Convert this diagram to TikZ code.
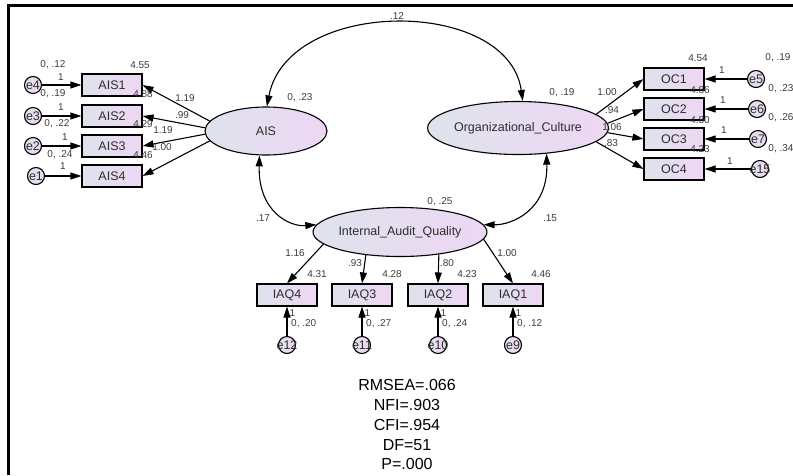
\documentclass[tikz,border=0pt]{standalone}
\usepackage{fontspec}
\setmainfont{Liberation Sans}
\usetikzlibrary{arrows.meta,shapes.geometric}
\definecolor{gl}{RGB}{222,227,237}
\definecolor{gr}{RGB}{238,214,243}
\definecolor{txt}{RGB}{45,45,45}
\definecolor{num}{RGB}{60,60,60}
\begin{document}
\begin{tikzpicture}[x=1pt,y=-1pt,
  nodefont/.style={font=\fontsize{12.5}{14}\selectfont},
  obs/.style={draw, line width=1.1pt, left color=gl, right color=gr, minimum width=60pt, minimum height=22pt, inner sep=0pt, nodefont, text=txt},
  lat/.style={ellipse, draw, line width=1.1pt, left color=gl, right color=gr, inner sep=0pt, nodefont, text=txt},
  err/.style={circle, draw, line width=1.1pt, left color=gl, right color=gr, minimum size=17pt, inner sep=0pt},
  lab/.style={font=\fontsize{10}{12}\selectfont, text=num, inner sep=0pt},
  fit/.style={font=\fontsize{16}{18}\selectfont, text=black, inner sep=0pt},
  arr/.style={-{Triangle[length=11pt,width=7pt]}, line width=1.1pt},
  biarr/.style={{Triangle[length=11pt,width=7pt]}-{Triangle[length=11pt,width=7pt]}, line width=1.1pt}
]
\useasboundingbox (0,0) rectangle (793,475);
\draw[line width=2.4pt] (8.5,475) -- (8.5,5.5) -- (793,5.5);

% latent variables
\node[lat, minimum width=122pt, minimum height=48pt] (ais) at (266,131) {AIS};
\node[lat, minimum width=157pt, minimum height=53pt] (oc) at (518,128) {Organizational\_Culture};
\node[lat, minimum width=156pt, minimum height=49pt] (iaq) at (400,232) {Internal\_Audit\_Quality};

% AIS indicators
\node[obs] (ais1) at (112,85) {AIS1};
\node[obs] (ais2) at (112,116) {AIS2};
\node[obs] (ais3) at (112,146) {AIS3};
\node[obs] (ais4) at (112,176) {AIS4};
\node[err, label={[nodefont,text=txt]center:e4}] (e4) at (33,85) {};
\node[err, label={[nodefont,text=txt]center:e3}] (e3) at (33,116) {};
\node[err, label={[nodefont,text=txt]center:e2}] (e2) at (33,146) {};
\node[err, label={[nodefont,text=txt]center:e1}] (e1) at (36,176) {};

% OC indicators
\node[obs] (oc1) at (674,79) {OC1};
\node[obs] (oc2) at (674,109) {OC2};
\node[obs] (oc3) at (674,139) {OC3};
\node[obs] (oc4) at (674,169) {OC4};
\node[err, label={[nodefont,text=txt]center:e5}] (e5) at (756,79) {};
\node[err, label={[nodefont,text=txt]center:e6}] (e6) at (757,109) {};
\node[err, label={[nodefont,text=txt]center:e7}] (e7) at (758,139) {};
\node[err, label={[nodefont,text=txt]center:e15}] (e15) at (760,169) {};

% IAQ indicators
\node[obs] (iaq4) at (287,295) {IAQ4};
\node[obs] (iaq3) at (362,295) {IAQ3};
\node[obs] (iaq2) at (438,295) {IAQ2};
\node[obs] (iaq1) at (513,295) {IAQ1};
\node[err, label={[nodefont,text=txt]center:e12}] (e12) at (287,345) {};
\node[err, label={[nodefont,text=txt]center:e11}] (e11) at (362,345) {};
\node[err, label={[nodefont,text=txt]center:e10}] (e10) at (438,345) {};
\node[err, label={[nodefont,text=txt]center:e9}] (e9) at (513,345) {};

% error arrows
\draw[arr] (e4) -- (ais1);
\draw[arr] (e3) -- (ais2);
\draw[arr] (e2) -- (ais3);
\draw[arr] (e1) -- (ais4);
\draw[arr] (e5) -- (oc1);
\draw[arr] (e6) -- (oc2);
\draw[arr] (e7) -- (oc3);
\draw[arr] (e15) -- (oc4);
\draw[arr] (e12) -- (iaq4);
\draw[arr] (e11) -- (iaq3);
\draw[arr] (e10) -- (iaq2);
\draw[arr] (e9) -- (iaq1);

% loadings
\draw[arr] (ais.170) -- (ais1.east);
\draw[arr] (ais.177) -- (ais2.east);
\draw[arr] (ais.183) -- (ais3.east);
\draw[arr] (ais.190) -- (ais4.east);
\draw[arr] (oc.10) -- (oc1.west);
\draw[arr] (oc.3) -- (oc2.west);
\draw[arr] (oc.357) -- (oc3.west);
\draw[arr] (oc.350) -- (oc4.west);
\draw[arr] (iaq.189) -- (iaq4.north);
\draw[arr] (iaq.214) -- (iaq3.north);
\draw[arr] (iaq.330) -- (iaq2.north);
\draw[arr] (iaq.355) -- (iaq1.north);

% covariances
\draw[biarr] (ais.88) .. controls (288,-3) and (508,-3) .. (oc.80);
\draw[biarr] (ais.255) .. controls (258,212) and (290,227) .. (iaq.175);
\draw[biarr] (oc.318) .. controls (548,210) and (512,225) .. (iaq.5);

% labels left
\node[lab] (l1) at (53,65) {0, .12};
\node[lab] (l2) at (61,77) {1};
\node[lab] (l3) at (53,94) {0, .19};
\node[lab] (l4) at (61,107) {1};
\node[lab] (l5) at (57,124) {0, .22};
\node[lab] (l6) at (65,137) {1};
\node[lab] (l7) at (60,155) {0, .24};
\node[lab] (l8) at (63,166) {1};
\node[lab] (l9) at (140,65) {4.55};
\node[lab] (l10) at (143,94) {4.88};
\node[lab] (l11) at (143,124) {4.29};
\node[lab] (l12) at (143,155) {4.46};
\node[lab] (l13) at (185,98) {1.19};
\node[lab] (l14) at (182,115) {.99};
\node[lab] (l15) at (163,130) {1.19};
\node[lab] (l16) at (162,147) {1.00};
\node[lab] (l17) at (300,98) {0, .23};
\node[lab] (l18) at (562,93) {0, .19};
\node[lab] (l19) at (397,16) {.12};

% labels right
\node[lab] (r1) at (778,58) {0, .19};
\node[lab] (r2) at (781,89) {0, .23};
\node[lab] (r3) at (781,118) {0, .26};
\node[lab] (r4) at (781,149) {0, .34};
\node[lab] (r5) at (722,70) {1};
\node[lab] (r6) at (723,100) {1};
\node[lab] (r7) at (724,130) {1};
\node[lab] (r8) at (730,161) {1};
\node[lab] (r9) at (698,58) {4.54};
\node[lab] (r10) at (700,90) {4.86};
\node[lab] (r11) at (700,120) {4.80};
\node[lab] (r12) at (700,149) {4.23};
\node[lab] (r13) at (607,92) {1.00};
\node[lab] (r14) at (612,110) {.94};
\node[lab] (r15) at (612,127) {1.06};
\node[lab] (r16) at (611,143) {.83};

% labels bottom
\node[lab] (b1) at (263,218) {.17};
\node[lab] (b2) at (440,202) {0, .25};
\node[lab] (b3) at (550,218) {.15};
\node[lab] (b4) at (295,253) {1.16};
\node[lab] (b5) at (355,263) {.93};
\node[lab] (b6) at (447,263) {.80};
\node[lab] (b7) at (507,253) {1.00};
\node[lab] (b8) at (317,274) {4.31};
\node[lab] (b9) at (392,274) {4.28};
\node[lab] (b10) at (467,274) {4.23};
\node[lab] (b11) at (541,274) {4.46};
\node[lab, anchor=west] (b12) at (289.5,313) {1};
\node[lab, anchor=west] (b13) at (291,324) {0, .20};
\node[lab, anchor=west] (b14) at (364.5,313) {1};
\node[lab, anchor=west] (b15) at (366,324) {0, .27};
\node[lab, anchor=west] (b16) at (440.5,313) {1};
\node[lab, anchor=west] (b17) at (442,324) {0, .24};
\node[lab, anchor=west] (b18) at (515.5,313) {1};
\node[lab, anchor=west] (b19) at (517,324) {0, .12};

% fit indices
\node[fit] (f1) at (407,385) {RMSEA=.066};
\node[fit] (f2) at (407,405) {NFI=.903};
\node[fit] (f3) at (407,425) {CFI=.954};
\node[fit] (f4) at (407,445) {DF=51};
\node[fit] (f5) at (407,464) {P=.000};
\end{tikzpicture}
\end{document}
